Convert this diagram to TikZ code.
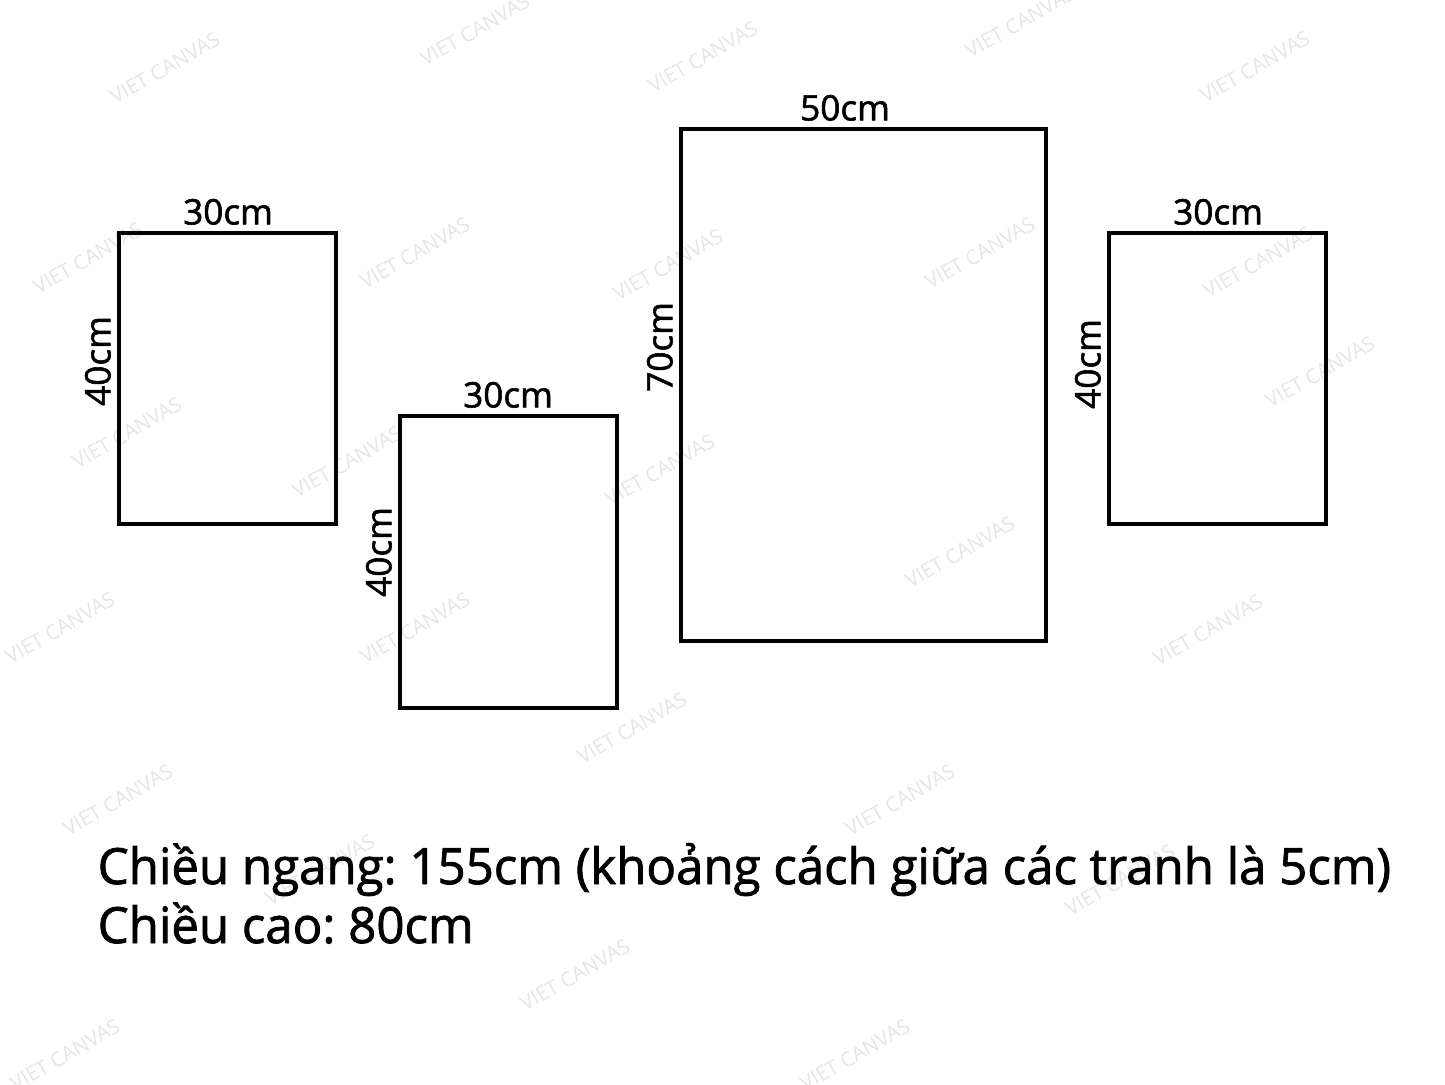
\documentclass[tikz,border=0pt]{standalone}
\usepackage{fontspec}
\setmainfont{Open Sans}
\newfontfamily\semifont{Open Sans}[FakeBold=1.6]
\newfontfamily\notefont{Open Sans}[FakeBold=1.6, FakeStretch=0.985]
\usepackage{tikz}
\usetikzlibrary{positioning}
\frenchspacing

\begin{document}
\begin{tikzpicture}[
    x=0.01cm, y=-0.01cm,
    panel/.style={line width=1.2pt},
    size/.style={font=\semifont\fontsize{10pt}{11pt}\selectfont, inner sep=1pt},
    wmark/.style={font=\fontsize{5.8pt}{6pt}\selectfont, text=gray!20, rotate=30},
    note/.style={font=\notefont\fontsize{14.2pt}{16pt}\selectfont, inner sep=0pt, anchor=base west}
]
    \useasboundingbox (0,0) rectangle (1445,1084);

    % watermarks behind everything
    \foreach \wx/\wy [count=\i] in {165/68, 475/30, 703/57, 1020/22, 1255/67,
        88/258, 415/253, 668/265, 980/253, 1258/262, 1320/372,
        127/433, 347/462, 660/470, 960/552, 60/628, 415/628, 1208/630,
        632/728, 118/800, 900/800, 320/870, 1120/880, 575/975, 65/1055, 855/1055}
        \node[wmark] (wm\i) at (\wx,\wy) {VIET CANVAS};

    % corners of the four panels
    \coordinate (p1a) at (119,233);  \coordinate (p1b) at (336,524);
    \coordinate (p2a) at (400,416);  \coordinate (p2b) at (617,708);
    \coordinate (p3a) at (681,129);  \coordinate (p3b) at (1046,641);
    \coordinate (p4a) at (1109,233); \coordinate (p4b) at (1326,524);

    \draw[panel] (p1a) rectangle (p1b);
    \draw[panel] (p2a) rectangle (p2b);
    \draw[panel] (p3a) rectangle (p3b);
    \draw[panel] (p4a) rectangle (p4b);

    % widths
    \node[size, anchor=south] (w1) at (228,229) {30cm};
    \node[size, anchor=south] (w2) at (508,412) {30cm};
    \node[size, anchor=south] (w3) at (845,125) {50cm};
    \node[size, anchor=south] (w4) at (1218,229) {30cm};

    % heights
    \node[size, rotate=90, anchor=south] (h1) at (115,361) {40cm};
    \node[size, rotate=90, anchor=south] (h2) at (396,552) {40cm};
    \node[size, rotate=90, anchor=south] (h3) at (677,347) {70cm};
    \node[size, rotate=90, anchor=south] (h4) at (1105,364) {40cm};

    % overall dimensions
    \node[note] (total) at (97,884) {Chiều ngang: 155cm (khoảng cách giữa các tranh là 5cm)};
    \node[note] (tall) at (97,943) {Chiều cao: 80cm};
\end{tikzpicture}
\end{document}
